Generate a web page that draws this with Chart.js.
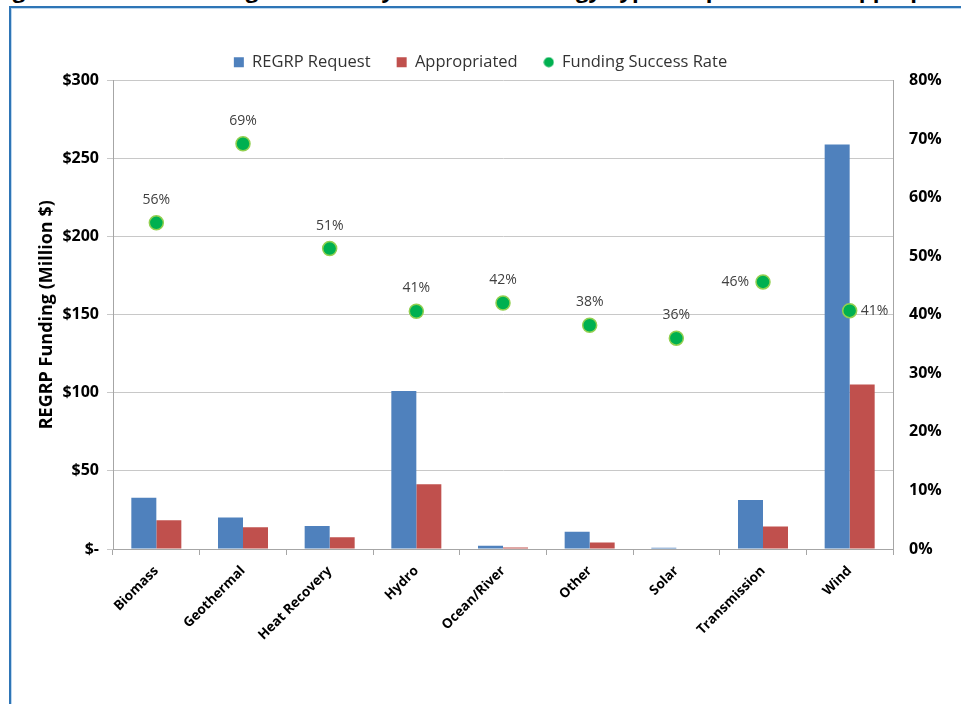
<!DOCTYPE html>
<html>
<head>
<meta charset="utf-8">
<title>REGRP Funding by Energy Type</title>
<script src="https://cdn.jsdelivr.net/npm/chart.js@4.4.1/dist/chart.umd.min.js"></script>
<style>
  html, body { margin: 0; padding: 0; background: #fff; overflow: hidden; }
  #wrap { position: relative; width: 961px; height: 704px; }
  #heading {
    position: absolute; left: -6px; top: -23px; white-space: nowrap;
    font: bold 22px "Open Sans", sans-serif; line-height: 24px; color: #000;
  }
  #frame {
    position: absolute; left: 9px; top: 6px; width: 1100px; height: 900px;
    border-left: 2px solid #2E75B6; border-top: 2px solid #2E75B6;
    box-shadow: inset 1px 1px 0 #BDD7EE;
  }
  #chart { position: absolute; left: 0; top: 0; }
</style>
</head>
<body>
<div id="wrap">
  <div id="heading">Figure 5: REGRP Funding Received by Renewable Energy Type: Request versus Appropriated</div>
  <div id="frame"></div>
  <canvas id="chart" width="961" height="704"></canvas>
</div>
<script>
// Funding per energy type, million dollars
const energyTypes = ["Biomass", "Geothermal", "Heat Recovery", "Hydro", "Ocean/River", "Other", "Solar", "Transmission", "Wind"];
const requested = [32.8, 20.1, 14.8, 101.2, 2.1, 11.0, 0.8, 31.4, 259.0];
const appropriated = [18.4, 13.9, 7.5, 41.5, 0.9, 4.2, 0.3, 14.4, 105.3];
// Appropriated / requested, percent
const successRate = [55.7, 69.2, 51.3, 40.6, 42.0, 38.2, 36.0, 45.6, 40.7];
const fundingTicks = [0, 50, 100, 150, 200, 250, 300];
const rateTicks = [0, 10, 20, 30, 40, 50, 60, 70, 80];

const FONT = '"Open Sans", sans-serif';

// small green dot for the legend entry (the plotted markers are bigger)
const legendDot = document.createElement("canvas");
legendDot.width = 11;
legendDot.height = 11;
(function () {
  const c = legendDot.getContext("2d");
  c.fillStyle = "#00B050";
  c.beginPath();
  c.arc(5.5, 5.5, 5, 0, Math.PI * 2);
  c.fill();
})();

// Percent labels next to the success-rate markers
const rateLabels = {
  id: "rateLabels",
  afterDatasetsDraw(chart) {
    const meta = chart.getDatasetMeta(2);
    const ctx = chart.ctx;
    ctx.save();
    ctx.font = "14px " + FONT;
    ctx.fillStyle = "#404040";
    ctx.textBaseline = "middle";
    meta.data.forEach(function (pt, i) {
      const txt = Math.round(successRate[i]) + "%";
      if (energyTypes[i] === "Transmission") {
        ctx.textAlign = "right";
        ctx.fillText(txt, pt.x - 14, pt.y);
      } else if (energyTypes[i] === "Wind") {
        ctx.textAlign = "left";
        ctx.fillText(txt, pt.x + 11, pt.y);
      } else {
        ctx.textAlign = "center";
        ctx.fillText(txt, pt.x, pt.y - 23);
      }
    });
    ctx.restore();
  },
};

new Chart(document.getElementById("chart"), {
  data: {
    labels: energyTypes,
    datasets: [
      {
        type: "bar",
        label: "REGRP Request",
        data: requested,
        backgroundColor: "#4F81BD",
        pointStyle: "rect",
        yAxisID: "y",
        order: 2,
      },
      {
        type: "bar",
        label: "Appropriated",
        data: appropriated,
        backgroundColor: "#C0504D",
        pointStyle: "rect",
        yAxisID: "y",
        order: 2,
      },
      {
        type: "line",
        label: "Funding Success Rate",
        data: successRate,
        showLine: false,
        pointStyle: "circle",
        pointRadius: 7,
        pointHoverRadius: 7,
        pointBackgroundColor: "#00B050",
        pointBorderColor: "#92D050",
        pointBorderWidth: 1.5,
        backgroundColor: "#00B050",
        borderColor: "#00B050",
        yAxisID: "y1",
        order: 1,
      },
    ],
  },
  options: {
    responsive: false,
    animation: false,
    events: [],
    layout: { padding: { left: 0, right: 0, top: 45, bottom: 0 } },
    datasets: {
      bar: { categoryPercentage: 0.577, barPercentage: 1.0 },
    },
    plugins: {
      legend: {
        position: "top",
        labels: {
          usePointStyle: true,
          boxWidth: 10,
          boxHeight: 10,
          padding: 9,
          color: "#333",
          font: { family: FONT, size: 16.5 },
          sort: function (a, b) { return a.datasetIndex - b.datasetIndex; },
          generateLabels: function (chart) {
            const items = Chart.defaults.plugins.legend.labels.generateLabels(chart);
            items.forEach(function (it) {
              it.lineWidth = 0;
              if (it.datasetIndex === 2) {
                it.pointStyle = legendDot;
              } else {
                // wider gap before the next entry
                it.text = it.text + "    ";
              }
            });
            return items;
          },
        },
      },
      tooltip: { enabled: false },
    },
    scales: {
      x: {
        grid: { drawOnChartArea: false, drawTicks: true, tickLength: 6, color: "#A6A6A6" },
        border: { color: "#A6A6A6" },
        ticks: {
          minRotation: 45,
          maxRotation: 45,
          padding: 8,
          color: "#000",
          font: { family: FONT, size: 13.5, weight: "bold" },
        },
        afterFit: function (scale) {
          scale.height = 155;
        },
      },
      y: {
        position: "left",
        min: 0,
        max: 300,
        afterBuildTicks: function (scale) {
          scale.ticks = fundingTicks.map(function (v) { return { value: v }; });
        },
        grid: { color: "#C8C8C8", tickLength: 6 },
        border: { color: "#A6A6A6" },
        ticks: {
          padding: 8,
          color: "#000",
          font: { family: FONT, size: 16, weight: "bold" },
          callback: function (v) { return v === 0 ? "$-" : "$" + v; },
        },
        title: {
          display: true,
          text: "REGRP Funding (Million $)",
          color: "#000",
          padding: { top: 36, bottom: 4 },
          font: { family: FONT, size: 18, weight: "bold" },
        },
        afterFit: function (scale) {
          scale.width = 113;
        },
      },
      y1: {
        position: "right",
        min: 0,
        max: 80,
        afterBuildTicks: function (scale) {
          scale.ticks = rateTicks.map(function (v) { return { value: v }; });
        },
        grid: { drawOnChartArea: false, drawTicks: false },
        border: { color: "#A6A6A6" },
        ticks: {
          padding: 16,
          color: "#000",
          font: { family: FONT, size: 16, weight: "bold" },
          callback: function (v) { return v + "%"; },
        },
        afterFit: function (scale) {
          scale.width = 68;
        },
      },
    },
  },
  plugins: [rateLabels],
});
</script>
</body>
</html>
